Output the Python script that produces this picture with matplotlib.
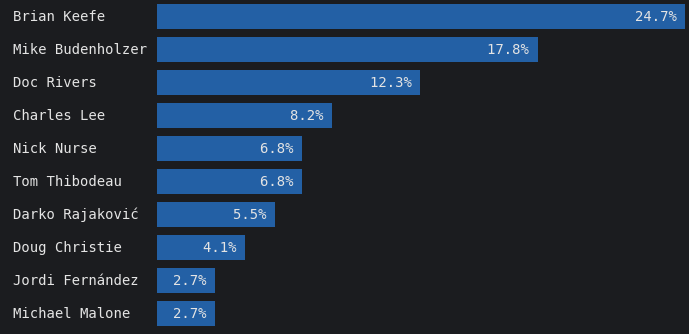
import matplotlib
matplotlib.use("Agg")
import matplotlib.pyplot as plt

names = ["Brian Keefe", "Mike Budenholzer", "Doc Rivers", "Charles Lee", "Nick Nurse",
         "Tom Thibodeau", "Darko Rajaković", "Doug Christie", "Jordi Fernández", "Michael Malone"]
values = [24.7, 17.8, 12.3, 8.2, 6.8, 6.8, 5.5, 4.1, 2.7, 2.7]

bg = "#1b1c1f"
bar_color = "#2360a5"
text_color = "#e4e4e4"
font = "DejaVu Sans Mono"

fig = plt.figure(figsize=(6.89, 3.34), dpi=100, facecolor=bg)
ax = fig.add_axes([157/689, 4/334, (685-157)/689, 330/334])
ax.set_facecolor(bg)

y = list(range(len(names)))
ax.barh(y, values, height=0.76, color=bar_color)
ax.set_ylim(len(names) - 0.5, -0.5)
ax.set_xlim(0, max(values))

for yi, v in zip(y, values):
    ax.text(v, yi + 0.14, f"{v:.1f}% ", ha="right", va="baseline", color=text_color,
            fontsize=10, family=font)

for yi, n in zip(y, names):
    ax.text(-144/528*max(values), yi + 0.14, n, ha="left", va="baseline", color=text_color,
            fontsize=10, family=font)

ax.set_xticks([])
ax.set_yticks([])
for s in ax.spines.values():
    s.set_visible(False)

fig.savefig("out.png", dpi=100, facecolor=bg)
